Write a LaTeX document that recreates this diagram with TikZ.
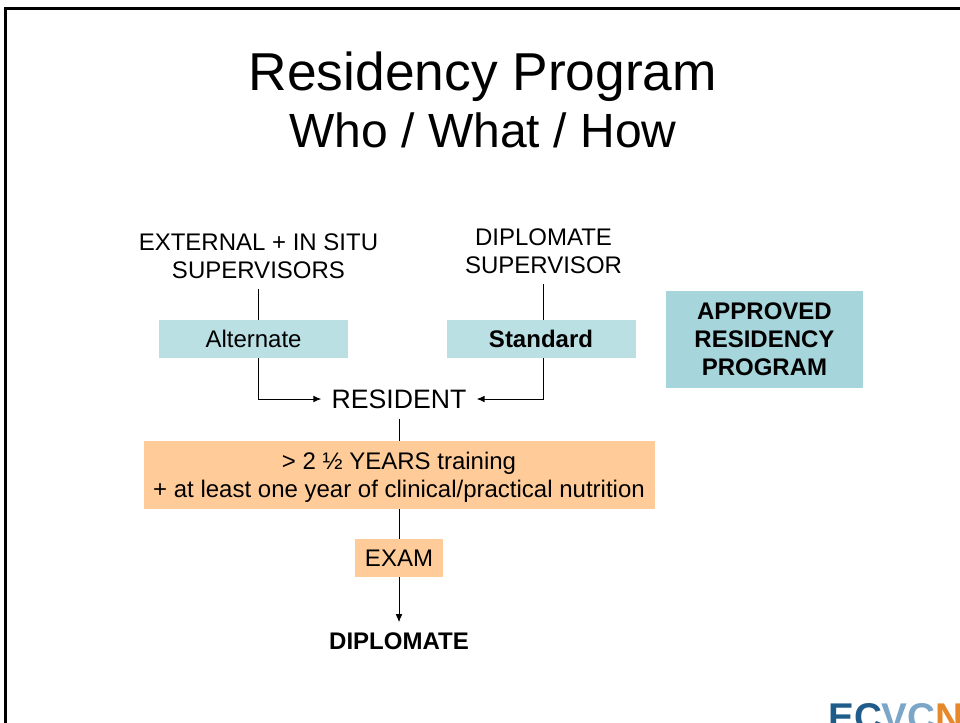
\documentclass[tikz,border=0pt]{standalone}
\usepackage{fontspec}
\setmainfont{Liberation Sans}
\usepackage{tikz}
\usetikzlibrary{positioning}
\usetikzlibrary{arrows.meta,backgrounds}
\definecolor{tealL}{HTML}{BBE0E3}
\definecolor{tealD}{HTML}{A6D5DB}
\definecolor{orangeL}{HTML}{FFCC99}
\definecolor{logoD}{HTML}{1F5C8A}
\definecolor{logoL}{HTML}{7BA6C8}
\definecolor{logoO}{HTML}{E5892B}
\tikzstyle{box} = [rectangle, fill=tealL, minimum width=141.75pt, minimum height=28.5pt,
                inner sep=0pt, font=\fontsize{18}{21}\selectfont]
\tikzstyle{obox} = [rectangle, fill=orangeL, minimum height=28.5pt, inner sep=0pt,
                align=center, font=\fontsize{18}{21}\selectfont]
\tikzstyle{txt} = [inner sep=7.5pt, align=center, font=\fontsize{18}{21}\selectfont]
\tikzstyle{line} = [draw, line width=0.7pt, -{Latex[length=6pt,width=5pt]}]
\tikzstyle{link} = [draw, line width=0.7pt]

\begin{document}
\begin{tikzpicture}[on grid]
        \useasboundingbox (0,0) rectangle (720pt,-541.5pt);
        \clip (0,0) rectangle (720pt,-541.5pt);
        \node[anchor=base, font=\fontsize{40}{48}\selectfont](title) at (362.25pt,-67.5pt){Residency Program};
        \node[anchor=base, font=\fontsize{36}{43}\selectfont](sub) at ([yshift=-42.75pt]title.base){Who / What / How};
        \node[txt, font=\fontsize{20}{24}\selectfont](res) at (299.25pt,-299.25pt){RESIDENT};
        \node[box, above left=45pt and 109.1pt of res](alt){Alternate};
        \node[box, above right=45pt and 106.5pt of res](std){\bfseries Standard};
        \node[box, fill=tealD, right=167.6pt of std, minimum width=147.75pt, minimum height=72.75pt,
                align=center, text depth=0pt](app){\bfseries APPROVED\\ \bfseries RESIDENCY\\ \bfseries PROGRAM};
        \node[txt, above left=107.25pt and 105.4pt of res](ext){EXTERNAL + IN SITU\\ SUPERVISORS};
        \node[txt, above right=111pt and 108.4pt of res](dipsup){DIPLOMATE\\ SUPERVISOR};
        \node[obox, below=57pt of res, minimum width=383.25pt, minimum height=51pt,
                text depth=0pt](train){> 2 ½ YEARS training\\ + at least one year of clinical/practical nutrition};
        \node[obox, below=62.25pt of train, minimum width=66pt](exam){EXAM};
        \node[txt, below=62.25pt of exam](dipl){\bfseries DIPLOMATE};
        \node[anchor=base west, inner sep=0pt, font=\fontsize{29}{29}\selectfont\bfseries](logo) at (621pt,-548pt){\textcolor{logoD}{EC}\textcolor{logoL}{VC}\textcolor{logoO}{N}};
        % slide frame
        \draw[line width=2.25pt] (4.125pt,-560pt) -- (4.125pt,-6.375pt) -- (730pt,-6.375pt);
        \begin{scope}[on background layer]
            \fill[white] (0,0) rectangle (720pt,-541.5pt);
            \path[line] (ext) |- (res);
            \path[line] (dipsup) |- (res);
            \path[link] (res) -- (train);
            \path[link] (train) -- (exam);
            \path[line] (exam) -- (dipl);
        \end{scope}
\end{tikzpicture}
\end{document}
